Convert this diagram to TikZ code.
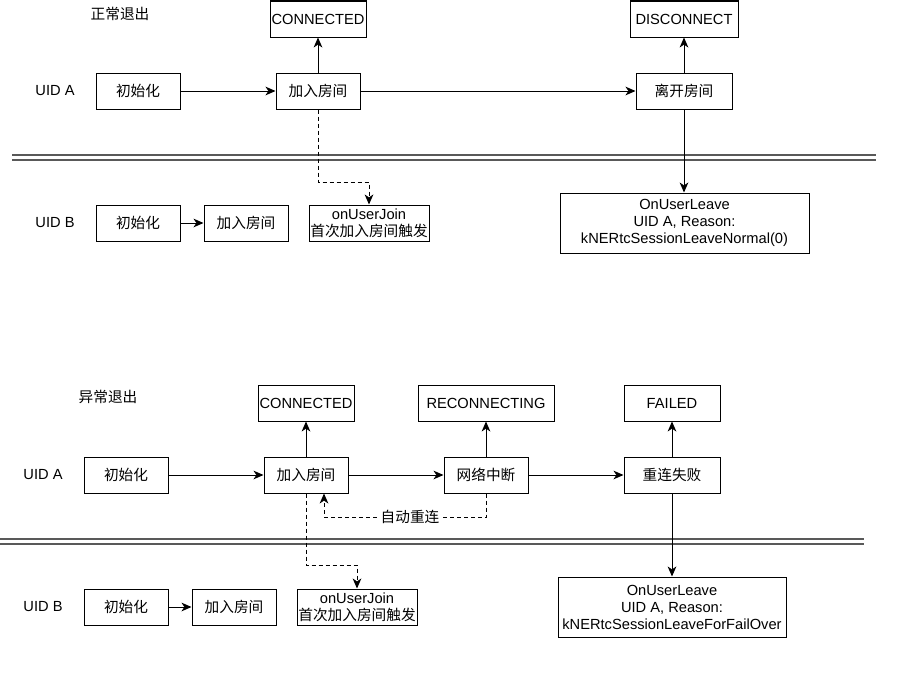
\documentclass[tikz,border=0pt]{standalone}
\usepackage{fontspec}
\setmainfont{Liberation Sans}
\newfontfamily\cjk{Noto Sans CJK SC}
\usetikzlibrary{arrows.meta,calc}
\begin{document}
\begin{tikzpicture}[x=0.75pt,y=-0.75pt,
  every node/.style={font=\fontsize{11}{12.75}\selectfont},
  bx/.style={draw, line width=0.75pt, inner sep=0pt, minimum height=27pt, align=center, fill=white},
  tall/.style={bx, minimum height=45pt},
  arr/.style={line width=0.75pt, -{Stealth[length=7.5pt,width=6.5pt,inset=2.2pt]}},
  dsh/.style={arr, dash pattern=on 3pt off 2.25pt},
  sepline/.style={line width=1.2pt, draw=black!65}
]
\useasboundingbox (0,0) rectangle (900,678);

% ---------- top section ----------
\node (t1) at (120,14) {\cjk 正常退出};
\node (ua1) at (55,91) {UID A};
\node (ub1) at (55,223) {UID B};

\node[bx, minimum width=72pt] (con1) at (318,19) {CONNECTED};
\node[bx, minimum width=81pt] (dis1) at (684,19) {DISCONNECT};
\node[bx, minimum width=63pt] (initA1) at (138,91) {\cjk 初始化};
\node[bx, minimum width=63pt] (joinA1) at (318,91) {\cjk 加入房间};
\node[bx, minimum width=72pt] (leaveA1) at (684,91) {\cjk 离开房间};
\node[bx, minimum width=63pt] (initB1) at (138,223) {\cjk 初始化};
\node[bx, minimum width=63pt] (joinB1) at (246,223) {\cjk 加入房间};
\node[bx, minimum width=90pt] (ujB1) at (369,223) {onUserJoin\\{\cjk 首次加入房间触发}};
\node[tall, minimum width=186.75pt] (ulB1) at (684.5,223) {OnUserLeave\\UID A, Reason:\\kNERtcSessionLeaveNormal(0)};

\coordinate (s1a) at (12,155); \coordinate (s1b) at (876,155);
\coordinate (s1c) at (12,160); \coordinate (s1d) at (876,160);
\draw[sepline] (s1a) -- (s1b);
\draw[sepline] (s1c) -- (s1d);

\draw[arr] (initA1) -- (joinA1);
\draw[arr] (joinA1) -- (leaveA1);
\draw[arr] (joinA1) -- (con1);
\draw[arr] (leaveA1) -- (dis1);
\draw[arr] (leaveA1.south) -- (leaveA1.south |- ulB1.north);
\draw[arr] (initB1) -- (joinB1);
\coordinate (d1) at (318,182);
\draw[dsh] (joinA1.south) -- (d1) -| (ujB1.north);

% ---------- bottom section ----------
\node (t2) at (108,397) {\cjk 异常退出};
\node (ua2) at (43,475) {UID A};
\node (ub2) at (43,607) {UID B};

\node[bx, minimum width=72pt] (con2) at (306,403) {CONNECTED};
\node[bx, minimum width=102pt] (rec2) at (486,403) {RECONNECTING};
\node[bx, minimum width=72pt] (fai2) at (672,403) {FAILED};
\node[bx, minimum width=63pt] (initA2) at (126,475) {\cjk 初始化};
\node[bx, minimum width=63pt] (joinA2) at (306,475) {\cjk 加入房间};
\node[bx, minimum width=63pt] (netA2) at (486,475) {\cjk 网络中断};
\node[bx, minimum width=72pt] (failA2) at (672,475) {\cjk 重连失败};
\node[bx, minimum width=63pt] (initB2) at (126,607) {\cjk 初始化};
\node[bx, minimum width=63pt] (joinB2) at (234,607) {\cjk 加入房间};
\node[bx, minimum width=90pt] (ujB2) at (357,607) {onUserJoin\\{\cjk 首次加入房间触发}};
\node[tall, minimum width=171pt] (ulB2) at (672,607) {OnUserLeave\\UID A, Reason:\\kNERtcSessionLeaveForFailOver};

\coordinate (s2a) at (0,539); \coordinate (s2b) at (864,539);
\coordinate (s2c) at (0,544); \coordinate (s2d) at (864,544);
\draw[sepline] (s2a) -- (s2b);
\draw[sepline] (s2c) -- (s2d);

\draw[arr] (initA2) -- (joinA2);
\draw[arr] (joinA2) -- (netA2);
\draw[arr] (netA2) -- (failA2);
\draw[arr] (joinA2) -- (con2);
\draw[arr] (netA2) -- (rec2);
\draw[arr] (failA2) -- (fai2);
\draw[arr] (failA2.south) -- (failA2.south |- ulB2.north);
\draw[arr] (initB2) -- (joinB2);
\coordinate (d2) at (306,565);
\draw[dsh] (joinA2.south) -- (d2) -| (ujB2.north);
\coordinate (r1) at (486,517);
\coordinate (r2) at (324,517);
\draw[dsh] (netA2.south) -- (r1) -- (r2) -- (r2 |- joinA2.south);
\node[fill=white, inner sep=1pt] (lbl) at (410,517) {\cjk 自动重连};
\end{tikzpicture}
\end{document}
